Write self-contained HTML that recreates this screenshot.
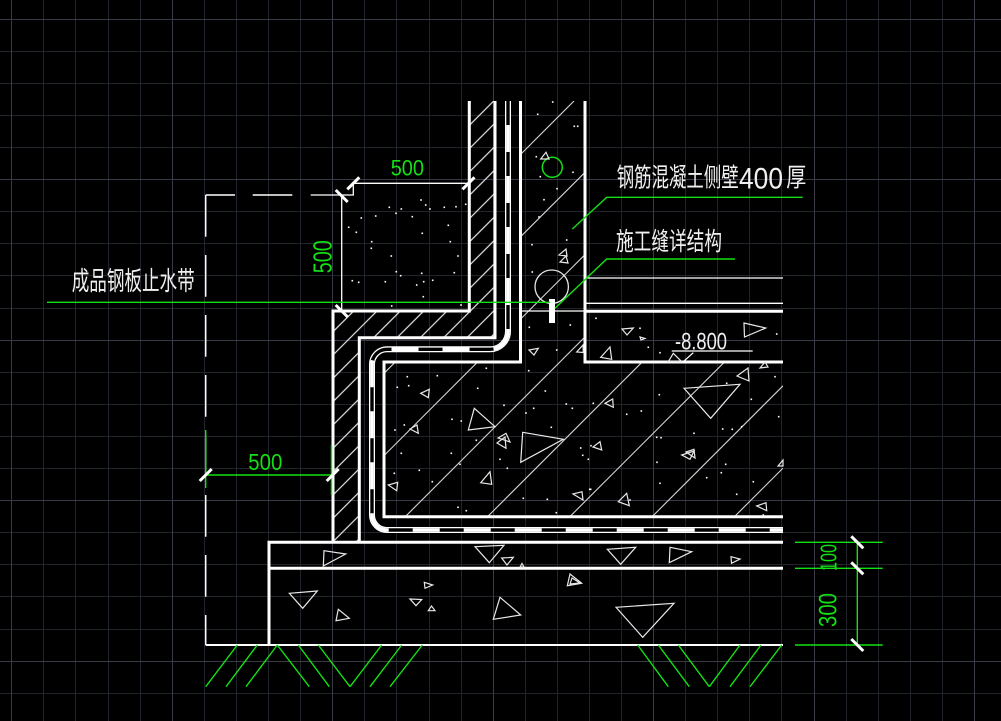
<!DOCTYPE html>
<html><head><meta charset="utf-8"><style>
html,body{margin:0;padding:0;background:#000;width:1001px;height:721px;overflow:hidden;}
svg{display:block;}
text{font-family:"Liberation Sans","Noto Sans CJK SC",sans-serif;}
</style></head><body>
<svg width="1001" height="721" viewBox="0 0 1001 721" xmlns="http://www.w3.org/2000/svg">
<defs>
<pattern id="ph" patternUnits="userSpaceOnUse" width="16.5" height="16.5" patternTransform="rotate(45)">
<line x1="8" y1="0" x2="8" y2="16.5" stroke="#e6e6e6" stroke-width="1.2"/>
</pattern>
<marker id="dot" markerUnits="userSpaceOnUse" markerWidth="3" markerHeight="3" refX="1.5" refY="1.5" overflow="visible">
<rect x="0.7" y="0.7" width="1.6" height="1.6" fill="#fff"/>
</marker>
<clipPath id="cc"><polygon points="520.5,101 585,101 585,362 783,362 783,516.7 384,516.7 384,362 520.5,362"/></clipPath>
</defs>
<rect width="1001" height="721" fill="#000"/>
<g fill="none" stroke-width="1">
<path stroke="#22242b" d="M43.5 0V721M75.5 0V721M108.5 0V721M140.5 0V721M204.5 0V721M236.5 0V721M268.5 0V721M300.5 0V721M364.5 0V721M396.5 0V721M429.5 0V721M461.5 0V721M525.5 0V721M557.5 0V721M589.5 0V721M621.5 0V721M685.5 0V721M717.5 0V721M749.5 0V721M781.5 0V721M846.5 0V721M878.5 0V721M910.5 0V721M942.5 0V721"/>
<path stroke="#22242b" d="M0 51.5H1001M0 83.5H1001M0 115.5H1001M0 147.5H1001M0 211.5H1001M0 243.5H1001M0 275.5H1001M0 308.5H1001M0 372.5H1001M0 404.5H1001M0 436.5H1001M0 468.5H1001M0 532.5H1001M0 564.5H1001M0 596.5H1001M0 629.5H1001M0 693.5H1001"/>
<path stroke="#383b45" d="M11.5 0V721M172.5 0V721M332.5 0V721M493.5 0V721M653.5 0V721M814.5 0V721M974.5 0V721M0 19.5H1001M0 179.5H1001M0 340.5H1001M0 500.5H1001M0 661.5H1001"/>
</g>

<polygon points="469.3,101 495,101 495,337.7 359.3,337.7 359.3,542 333,542 333,311 469.3,311" fill="url(#ph)"/>

<g clip-path="url(#cc)" stroke="#d6d6d6" stroke-width="1.1">
<line x1="574" y1="101" x2="384" y2="291"/>
<line x1="656.3" y1="101" x2="384" y2="373.3"/>
<line x1="738.6" y1="101" x2="384" y2="455.6"/>
<line x1="783" y1="138.9" x2="404.9" y2="517"/>
<line x1="783" y1="221.2" x2="487.2" y2="517"/>
<line x1="783" y1="303.5" x2="569.5" y2="517"/>
<line x1="783" y1="385.8" x2="651.8" y2="517"/>
<line x1="783" y1="468.1" x2="734.1" y2="517"/>
</g>

<g fill="none" stroke="#fff" stroke-width="3">
<path d="M469.3 101V311H333V542"/>
<path d="M495 101V337.7H359.3V542"/>
<path d="M520.5 101V362H384V516.7H783"/>
<path d="M585 101V362H783"/>
<path d="M585 311.3H783"/>
<path d="M269 645V542.3H783"/>
<path d="M269 568.3H783"/>
</g>
<g fill="none" stroke="#fff" stroke-width="1.3">
<path d="M585 278H783"/>
<path d="M585 303.3H783"/>
<path d="M520.5 311H585"/>
<path d="M205.7 645H783" stroke-width="2"/>
<path d="M671.7 351H752.7"/>
<path d="M683.3 361.7L693.3 352.7"/>
<path d="M310.7 195H353.3V183.3H468.5"/>
<path d="M341.7 195V311"/>
</g>
<line x1="205.7" y1="195" x2="205.7" y2="645" stroke="#fff" stroke-width="1.5" stroke-dasharray="41.7 18.3"/>
<path d="M205.7 195H235M252.7 195H292.3" stroke="#fff" stroke-width="1.5" fill="none"/>

<g fill="none">
<path d="M508 101V331A18 18 0 0 1 490 349.3H387A15 15 0 0 0 372 364.3V515A15 15 0 0 0 387 530H783" stroke="#fff" stroke-width="6"/>
<path d="M508 101V331A18 18 0 0 1 490 349.3H387A15 15 0 0 0 372 364.3V515A15 15 0 0 0 387 530H783" stroke="#000" stroke-width="3.4"/>
<path d="M508 101V331A18 18 0 0 1 490 349.3H387A15 15 0 0 0 372 364.3V515A15 15 0 0 0 387 530H783" stroke="#fff" stroke-width="3.6" stroke-dasharray="27 24" stroke-dashoffset="27"/>
</g>

<circle cx="551.7" cy="286.7" r="16.7" fill="none" stroke="#e8e8e8" stroke-width="1.3"/>
<circle cx="552.3" cy="167.3" r="10" fill="none" stroke="#14e014" stroke-width="1.5"/>
<rect x="549" y="299" width="6" height="24" fill="#fff"/>

<g fill="none" stroke="#e8e8e8" stroke-width="1.2">
<polygon points="540.7,159 546,152.3 549,159"/>
<polygon points="559,255 566,249 567,256"/>
<polygon points="560,262 566,256 568,263"/>
<polygon points="529,350 538.3,348.3 534,355"/>
<polygon points="576.7,352 583,345 583.3,352.5"/>
<polygon points="622,329 633.3,328 627,335"/>
<polygon points="640,337 645,338.5 641,340"/>
<polygon points="610,347 600.7,357.3 611.7,359.3"/>
<polygon points="668.3,361.7 673.3,353.3 681.7,361.7"/>
<polygon points="744,323 765.7,328 744.5,337"/>
<polygon points="684,388.3 740,384.3 710.7,418.3"/>
<polygon points="737,376 748,368 749,381"/>
<polygon points="760,368 765,362 768,367"/>
<polygon points="605,403.3 612.7,399 613.3,407.3"/>
<polygon points="593,447 600,441.7 601.7,450"/>
<polygon points="681.7,455 694,451 690,459.3"/>
<polygon points="686,452 694,449.3 695,458"/>
<polygon points="573,494 582,491.7 583,500"/>
<polygon points="618.3,501.7 626.7,493.3 629.3,505.7"/>
<polygon points="756.7,506 766,502.7 766.7,510.7"/>
<polygon points="420.7,393.3 429.3,389.3 428.3,397.7"/>
<polygon points="410,429 417,425 418.3,433.3"/>
<polygon points="474.3,408.3 468.3,430 495,426.7"/>
<polygon points="498,438 506,433.3 510,442"/>
<polygon points="497,443 505,437 506,448.3"/>
<polygon points="522.7,432.3 563.3,439.3 520.7,462.3"/>
<polygon points="480.7,482.7 490,471.7 491.7,484.3"/>
<polygon points="388.3,485 397.7,482.3 396.7,490.7"/>
<polygon points="778,466 783,460 783,466"/>
<polygon points="324,550.7 345.7,554 323.3,566"/>
<polygon points="475,546.7 504,545.3 489.3,562.7"/>
<polygon points="501.7,558 513.3,557.3 507,565"/>
<polygon points="520,567 522,563.5 524,567"/>
<polygon points="570,574 581.7,583.3 567.3,585.7"/>
<polygon points="572,578 580,583 570,584"/>
<polygon points="607.3,549.3 635.7,547.3 620.7,564.3"/>
<polygon points="670,547.3 691.7,551.7 669.3,562.7"/>
<polygon points="731,556.7 740,559 731.5,563.3"/>
<polygon points="289.3,593.3 317.3,591 302.7,608.3"/>
<polygon points="338.3,609.3 349.3,618.3 336,620.7"/>
<polygon points="424.3,582.3 432.7,585 425,588.3"/>
<polygon points="410,599 421.7,599.5 416,605.7"/>
<polygon points="428.3,610.7 431.5,606 435,610.7"/>
<polygon points="500,597.3 520.7,615 493.3,619.3"/>
<polygon points="616,607.3 674,603.3 642.7,637.3"/>
</g>

<g fill="none" stroke="none" marker-start="url(#dot)" marker-mid="url(#dot)" marker-end="url(#dot)">
<polyline points="421,200 425.7,205 430,209 444.3,207.3 456,206.7 465.7,204.3 389.3,207.3 401.3,209 396,213.3 375.7,216 361.3,218 412.3,216.7 448.3,225.3 348.7,227.3 356.3,232.3 422.3,233.3 371.7,241.7 450.3,241.7 371.3,248.3 391.3,256 458,256 396.3,271.7 400.7,275.7 421.7,273.3 454.3,272.7 352.3,280.7 358.7,282.3 385.3,281.7 423.7,281.7 432.7,280.3 416.7,285 423.3,296.7 391.7,306 461,305"/>
<polyline points="552.7,102 537.7,114.3 574.3,126.3 577.7,126.3 536.3,156.7 540.3,176.7 573,172.3 557,188.7 544,199.7 539,217 532,244.7 566.7,240 532.3,272"/>
<polyline points="407.3,376.7 408.7,385.7 397.3,387.3 437.3,375.7 477.7,388.3 486.3,368.3 528.7,370.7 556.7,350 570.3,325 529.3,327.3 545.3,391 504,405.3 533.7,408.3 526,413 566.3,404 572.3,408.3 395,430 404.3,425 452,419.3 461.3,421 476.3,440.3 401.3,453.3 451.3,453.3 460,464.3 551.3,427.3 580.7,448 582.7,455.3 588.3,459.3 419.3,470.3 394.3,473.3 432.3,481.7 523.3,498.3 547.3,499.3 556.3,512.7 458,507.3 466.3,510.7 507.3,468.3 500,459.3 590.7,489.3"/>
<polyline points="596,318.3 640,328.3 648.3,347.3 660,352.7 776.7,334 593.3,403.3 626.7,414.3 641.3,411 659.3,394.7 751.3,399.3 778.7,416.7 726.7,383.3 591,445.7 656.7,437.3 661,437.7 694,433.3 722.7,429 732.3,429.3 741.7,426.7 657,462.3 725.7,464.3 721.3,472.7 706.7,477.7 660,483.3 589.7,489.3 630,500 736.7,494.3 753.3,481.7 775,376.7 763.3,515"/>
</g>

<g stroke="#14e014" stroke-width="1.4" fill="none">
<path d="M47 302.3H550"/>
<path d="M572.3 229L606.7 197.3H802.7"/>
<path d="M555 308.3L606.7 259H735"/>
<path d="M205.7 475H332.7"/>
<path d="M205.7 430V488"/>
<path d="M331.5 445V495"/>
<path d="M857.3 542.3V645"/>
<path d="M795 542.3H882.7M795 568.3H882.7M795 645H882.7"/>
<path d="M237.3 645L205.7 686.7M257.3 645L226 686.7M277.3 645L246 686.7M277.3 645L309.3 686.7M298.3 645L329.3 686.7M318.3 645L350 686.7M381.7 645L350 686.7M401.7 645L370 686.7M422.3 645L390 686.7"/>
<path d="M637.7 645L668.3 686.7M658.3 645L689.3 686.7M678.3 645L709.3 686.7M740 645L709.3 686.7M761 645L730 686.7M781.7 645L750 686.7"/>
</g>

<g stroke="#fff" stroke-width="3" fill="none">
<path d="M347.3 189.3L359.3 177.3M462.5 189.3L474.5 177.3M199.7 481L211.7 469M326.7 481L338.7 469"/>
<path d="M335.7 190L347.7 202M335.7 305L347.7 317M851.3 536.3L863.3 548.3M851.3 562.3L863.3 574.3M851.3 639L863.3 651"/>
</g>

<g fill="#14e014">
<text x="390.7" y="175.7" font-size="22" textLength="33.3" lengthAdjust="spacingAndGlyphs">500</text>
<text x="248.3" y="470" font-size="23" textLength="34" lengthAdjust="spacingAndGlyphs">500</text>
<text transform="translate(331.7,256.7) rotate(-90)" x="-16.5" y="0" font-size="26" textLength="33" lengthAdjust="spacingAndGlyphs">500</text>
<text transform="translate(836.7,557.5) rotate(-90)" x="-13.5" y="0" font-size="23" textLength="27" lengthAdjust="spacingAndGlyphs">100</text>
<text transform="translate(836.7,610) rotate(-90)" x="-17" y="0" font-size="25" textLength="34" lengthAdjust="spacingAndGlyphs">300</text>
</g>

<g fill="#f0f0f0">
<text x="675" y="349.3" font-size="24" textLength="52" lengthAdjust="spacingAndGlyphs">-8.800</text>
<text x="616.7" y="186.5" font-size="26" textLength="122" lengthAdjust="spacingAndGlyphs">钢筋混凝土侧壁</text>
<text x="739" y="188.3" font-size="30" textLength="44" lengthAdjust="spacingAndGlyphs">400</text>
<text x="786.3" y="186.5" font-size="26" textLength="20" lengthAdjust="spacingAndGlyphs">厚</text>
<text x="616" y="250" font-size="25" textLength="106" lengthAdjust="spacingAndGlyphs">施工缝详结构</text>
<text x="71.7" y="290" font-size="26" textLength="123" lengthAdjust="spacingAndGlyphs">成品钢板止水带</text>
</g>
</svg>
</body></html>
